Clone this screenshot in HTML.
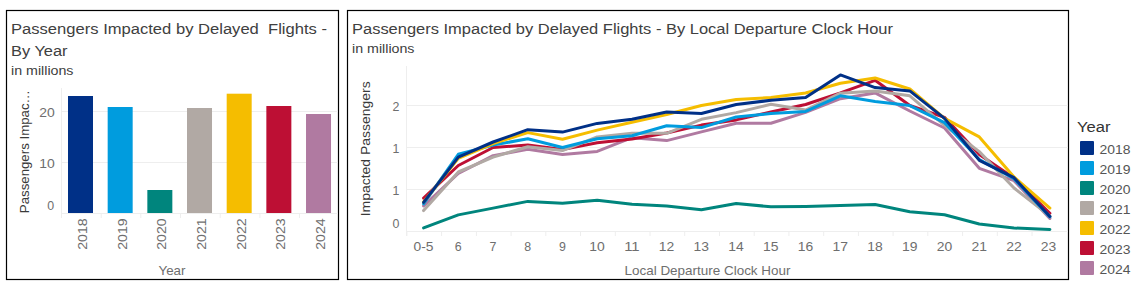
<!DOCTYPE html><html><head><meta charset="utf-8"><style>html,body{margin:0;padding:0;background:#fff;}svg{display:block;}text{font-family:"Liberation Sans",sans-serif;}</style></head><body>
<svg width="1138" height="287" viewBox="0 0 1138 287">
<rect x="0" y="0" width="1138" height="287" fill="#fff"/>
<rect x="6.5" y="10.5" width="332" height="269" fill="none" stroke="#000" stroke-width="1.2"/>
<text x="11" y="34.2" font-size="14.9" fill="#404040" textLength="316" lengthAdjust="spacingAndGlyphs">Passengers Impacted by Delayed&#160; Flights -</text>
<text x="11" y="55.8" font-size="14.9" fill="#404040" textLength="56.5" lengthAdjust="spacingAndGlyphs">By Year</text>
<text x="11" y="74.6" font-size="13.4" fill="#404040" textLength="62.5" lengthAdjust="spacingAndGlyphs">in millions</text>
<line x1="61.5" y1="88" x2="61.5" y2="218" stroke="#eeeeee" stroke-width="1"/>
<line x1="61" y1="111.5" x2="338" y2="111.5" stroke="#eeeeee" stroke-width="1"/>
<line x1="61" y1="162.5" x2="338" y2="162.5" stroke="#eeeeee" stroke-width="1"/>
<line x1="61" y1="213.5" x2="338" y2="213.5" stroke="#eeeeee" stroke-width="1"/>
<line x1="61.5" y1="213" x2="61.5" y2="218" stroke="#eeeeee" stroke-width="1"/>
<line x1="101.2" y1="213" x2="101.2" y2="218" stroke="#eeeeee" stroke-width="1"/>
<line x1="140.8" y1="213" x2="140.8" y2="218" stroke="#eeeeee" stroke-width="1"/>
<line x1="180.5" y1="213" x2="180.5" y2="218" stroke="#eeeeee" stroke-width="1"/>
<line x1="220.2" y1="213" x2="220.2" y2="218" stroke="#eeeeee" stroke-width="1"/>
<line x1="259.9" y1="213" x2="259.9" y2="218" stroke="#eeeeee" stroke-width="1"/>
<line x1="299.5" y1="213" x2="299.5" y2="218" stroke="#eeeeee" stroke-width="1"/>
<rect x="68.00" y="96" width="25" height="117.00" fill="#003087"/>
<text transform="translate(86.9,218.3) rotate(-90)" x="0" y="0" font-size="12.4" fill="#6e6e6e" text-anchor="end" textLength="31.5" lengthAdjust="spacingAndGlyphs">2018</text>
<rect x="107.67" y="107" width="25" height="106.00" fill="#009CDE"/>
<text transform="translate(126.6,218.3) rotate(-90)" x="0" y="0" font-size="12.4" fill="#6e6e6e" text-anchor="end" textLength="31.5" lengthAdjust="spacingAndGlyphs">2019</text>
<rect x="147.34" y="190" width="25" height="23.00" fill="#00857D"/>
<text transform="translate(166.2,218.3) rotate(-90)" x="0" y="0" font-size="12.4" fill="#6e6e6e" text-anchor="end" textLength="31.5" lengthAdjust="spacingAndGlyphs">2020</text>
<rect x="187.01" y="108" width="25" height="105.00" fill="#B1A9A4"/>
<text transform="translate(205.9,218.3) rotate(-90)" x="0" y="0" font-size="12.4" fill="#6e6e6e" text-anchor="end" textLength="31.5" lengthAdjust="spacingAndGlyphs">2021</text>
<rect x="226.68" y="93.7" width="25" height="119.30" fill="#F5BD00"/>
<text transform="translate(245.6,218.3) rotate(-90)" x="0" y="0" font-size="12.4" fill="#6e6e6e" text-anchor="end" textLength="31.5" lengthAdjust="spacingAndGlyphs">2022</text>
<rect x="266.35" y="106" width="25" height="107.00" fill="#BD0F34"/>
<text transform="translate(285.2,218.3) rotate(-90)" x="0" y="0" font-size="12.4" fill="#6e6e6e" text-anchor="end" textLength="31.5" lengthAdjust="spacingAndGlyphs">2023</text>
<rect x="306.02" y="114" width="25" height="99.00" fill="#B07AA1"/>
<text transform="translate(324.9,218.3) rotate(-90)" x="0" y="0" font-size="12.4" fill="#6e6e6e" text-anchor="end" textLength="31.5" lengthAdjust="spacingAndGlyphs">2024</text>
<text x="54.8" y="117.2" font-size="12.4" fill="#6e6e6e" text-anchor="end" textLength="15.5" lengthAdjust="spacingAndGlyphs">20</text>
<text x="54.8" y="168" font-size="12.4" fill="#6e6e6e" text-anchor="end" textLength="15.5" lengthAdjust="spacingAndGlyphs">10</text>
<text x="54.2" y="209.9" font-size="12.4" fill="#6e6e6e" text-anchor="end">0</text>
<text transform="translate(29.2,213.2) rotate(-90)" x="0" y="0" font-size="13.2" fill="#3a3a3a" textLength="123" lengthAdjust="spacingAndGlyphs">Passengers Impac…</text>
<text x="172" y="274.6" font-size="12.6" fill="#6e6e6e" text-anchor="middle" textLength="27" lengthAdjust="spacingAndGlyphs">Year</text>
<rect x="347.5" y="10.5" width="721" height="269" fill="none" stroke="#000" stroke-width="1.2"/>
<text x="352" y="34.2" font-size="14.9" fill="#404040" textLength="541" lengthAdjust="spacingAndGlyphs">Passengers Impacted by Delayed Flights - By Local Departure Clock Hour</text>
<text x="352" y="53.4" font-size="13.4" fill="#404040" textLength="62.5" lengthAdjust="spacingAndGlyphs">in millions</text>
<line x1="406.5" y1="66" x2="406.5" y2="236" stroke="#eeeeee" stroke-width="1"/>
<line x1="406" y1="105.5" x2="1068" y2="105.5" stroke="#eeeeee" stroke-width="1"/>
<line x1="406" y1="147.5" x2="1068" y2="147.5" stroke="#eeeeee" stroke-width="1"/>
<line x1="406" y1="189.5" x2="1068" y2="189.5" stroke="#eeeeee" stroke-width="1"/>
<line x1="406" y1="231.5" x2="1068" y2="231.5" stroke="#eeeeee" stroke-width="1"/>
<line x1="406.9" y1="231" x2="406.9" y2="236" stroke="#eeeeee" stroke-width="1"/>
<line x1="441.6" y1="231" x2="441.6" y2="236" stroke="#eeeeee" stroke-width="1"/>
<line x1="476.4" y1="231" x2="476.4" y2="236" stroke="#eeeeee" stroke-width="1"/>
<line x1="511.1" y1="231" x2="511.1" y2="236" stroke="#eeeeee" stroke-width="1"/>
<line x1="545.8" y1="231" x2="545.8" y2="236" stroke="#eeeeee" stroke-width="1"/>
<line x1="580.5" y1="231" x2="580.5" y2="236" stroke="#eeeeee" stroke-width="1"/>
<line x1="615.3" y1="231" x2="615.3" y2="236" stroke="#eeeeee" stroke-width="1"/>
<line x1="650.0" y1="231" x2="650.0" y2="236" stroke="#eeeeee" stroke-width="1"/>
<line x1="684.7" y1="231" x2="684.7" y2="236" stroke="#eeeeee" stroke-width="1"/>
<line x1="719.5" y1="231" x2="719.5" y2="236" stroke="#eeeeee" stroke-width="1"/>
<line x1="754.2" y1="231" x2="754.2" y2="236" stroke="#eeeeee" stroke-width="1"/>
<line x1="788.9" y1="231" x2="788.9" y2="236" stroke="#eeeeee" stroke-width="1"/>
<line x1="823.7" y1="231" x2="823.7" y2="236" stroke="#eeeeee" stroke-width="1"/>
<line x1="858.4" y1="231" x2="858.4" y2="236" stroke="#eeeeee" stroke-width="1"/>
<line x1="893.1" y1="231" x2="893.1" y2="236" stroke="#eeeeee" stroke-width="1"/>
<line x1="927.8" y1="231" x2="927.8" y2="236" stroke="#eeeeee" stroke-width="1"/>
<line x1="962.6" y1="231" x2="962.6" y2="236" stroke="#eeeeee" stroke-width="1"/>
<line x1="997.3" y1="231" x2="997.3" y2="236" stroke="#eeeeee" stroke-width="1"/>
<line x1="1032.0" y1="231" x2="1032.0" y2="236" stroke="#eeeeee" stroke-width="1"/>
<text x="423.5" y="250.9" font-size="12.4" fill="#6e6e6e" text-anchor="middle" textLength="20" lengthAdjust="spacingAndGlyphs">0-5</text>
<text x="458.2" y="250.9" font-size="12.4" fill="#6e6e6e" text-anchor="middle">6</text>
<text x="493.0" y="250.9" font-size="12.4" fill="#6e6e6e" text-anchor="middle">7</text>
<text x="527.7" y="250.9" font-size="12.4" fill="#6e6e6e" text-anchor="middle">8</text>
<text x="562.4" y="250.9" font-size="12.4" fill="#6e6e6e" text-anchor="middle">9</text>
<text x="597.1" y="250.9" font-size="12.4" fill="#6e6e6e" text-anchor="middle" textLength="15.5" lengthAdjust="spacingAndGlyphs">10</text>
<text x="631.9" y="250.9" font-size="12.4" fill="#6e6e6e" text-anchor="middle" textLength="15.5" lengthAdjust="spacingAndGlyphs">11</text>
<text x="666.6" y="250.9" font-size="12.4" fill="#6e6e6e" text-anchor="middle" textLength="15.5" lengthAdjust="spacingAndGlyphs">12</text>
<text x="701.3" y="250.9" font-size="12.4" fill="#6e6e6e" text-anchor="middle" textLength="15.5" lengthAdjust="spacingAndGlyphs">13</text>
<text x="736.1" y="250.9" font-size="12.4" fill="#6e6e6e" text-anchor="middle" textLength="15.5" lengthAdjust="spacingAndGlyphs">14</text>
<text x="770.8" y="250.9" font-size="12.4" fill="#6e6e6e" text-anchor="middle" textLength="15.5" lengthAdjust="spacingAndGlyphs">15</text>
<text x="805.5" y="250.9" font-size="12.4" fill="#6e6e6e" text-anchor="middle" textLength="15.5" lengthAdjust="spacingAndGlyphs">16</text>
<text x="840.3" y="250.9" font-size="12.4" fill="#6e6e6e" text-anchor="middle" textLength="15.5" lengthAdjust="spacingAndGlyphs">17</text>
<text x="875.0" y="250.9" font-size="12.4" fill="#6e6e6e" text-anchor="middle" textLength="15.5" lengthAdjust="spacingAndGlyphs">18</text>
<text x="909.7" y="250.9" font-size="12.4" fill="#6e6e6e" text-anchor="middle" textLength="15.5" lengthAdjust="spacingAndGlyphs">19</text>
<text x="944.4" y="250.9" font-size="12.4" fill="#6e6e6e" text-anchor="middle" textLength="15.5" lengthAdjust="spacingAndGlyphs">20</text>
<text x="979.2" y="250.9" font-size="12.4" fill="#6e6e6e" text-anchor="middle" textLength="15.5" lengthAdjust="spacingAndGlyphs">21</text>
<text x="1013.9" y="250.9" font-size="12.4" fill="#6e6e6e" text-anchor="middle" textLength="15.5" lengthAdjust="spacingAndGlyphs">22</text>
<text x="1048.6" y="250.9" font-size="12.4" fill="#6e6e6e" text-anchor="middle" textLength="15.5" lengthAdjust="spacingAndGlyphs">23</text>
<text x="399.5" y="111.3" font-size="12.4" fill="#6e6e6e" text-anchor="end">2</text>
<text x="399.5" y="153" font-size="12.4" fill="#6e6e6e" text-anchor="end">1</text>
<text x="399.5" y="195" font-size="12.4" fill="#6e6e6e" text-anchor="end">1</text>
<text x="399.5" y="227.5" font-size="12.4" fill="#6e6e6e" text-anchor="end">0</text>
<text transform="translate(370.1,216.3) rotate(-90)" x="0" y="0" font-size="13.2" fill="#3a3a3a" textLength="135" lengthAdjust="spacingAndGlyphs">Impacted Passengers</text>
<text x="707.5" y="274.7" font-size="12.6" fill="#6e6e6e" text-anchor="middle" textLength="166" lengthAdjust="spacingAndGlyphs">Local Departure Clock Hour</text>
<polyline points="423.6,227.9 458.3,214.9 493.1,208.1 527.8,201.4 562.5,203.3 597.2,200.2 632.0,204.3 666.7,205.9 701.4,209.7 736.2,203.4 770.9,206.8 805.6,206.4 840.4,205.5 875.1,204.5 909.8,211.8 944.5,214.7 979.3,224.0 1014.0,228.0 1049.9,229.5" fill="none" stroke="#00857D" stroke-width="3" stroke-linejoin="round" stroke-linecap="round"/>
<polyline points="423.6,205.9 458.3,173.5 493.1,155.7 527.8,149.2 562.5,154.4 597.2,151.4 632.0,137.7 666.7,140.6 701.4,131.9 736.2,123.2 770.9,123.2 805.6,112.4 840.4,98.7 875.1,92.9 909.8,111.0 944.5,128.0 979.3,168.3 1014.0,180.6 1049.9,218.5" fill="none" stroke="#B07AA1" stroke-width="3" stroke-linejoin="round" stroke-linecap="round"/>
<polyline points="423.6,198.1 458.3,165.5 493.1,147.5 527.8,145.0 562.5,149.6 597.2,142.7 632.0,139.0 666.7,133.0 701.4,125.1 736.2,119.9 770.9,112.0 805.6,104.5 840.4,92.9 875.1,80.3 909.8,105.5 944.5,117.4 979.3,154.5 1014.0,178.0 1049.9,213.3" fill="none" stroke="#BD0F34" stroke-width="3" stroke-linejoin="round" stroke-linecap="round"/>
<polyline points="423.6,210.6 458.3,172.0 493.1,157.1 527.8,146.8 562.5,150.6 597.2,136.9 632.0,133.3 666.7,133.3 701.4,119.3 736.2,112.6 770.9,104.3 805.6,110.0 840.4,93.2 875.1,90.9 909.8,95.8 944.5,125.3 979.3,151.6 1014.0,188.0 1049.9,216.0" fill="none" stroke="#B1A9A4" stroke-width="3" stroke-linejoin="round" stroke-linecap="round"/>
<polyline points="423.6,203.8 458.3,154.3 493.1,145.1 527.8,138.8 562.5,147.5 597.2,138.8 632.0,135.8 666.7,125.7 701.4,127.6 736.2,117.0 770.9,113.5 805.6,111.4 840.4,95.8 875.1,101.6 909.8,105.6 944.5,122.7 979.3,159.5 1014.0,178.7 1049.9,217.0" fill="none" stroke="#009CDE" stroke-width="3" stroke-linejoin="round" stroke-linecap="round"/>
<polyline points="423.6,202.0 458.3,158.3 493.1,143.5 527.8,132.6 562.5,139.3 597.2,130.1 632.0,122.2 666.7,114.5 701.4,105.5 736.2,99.5 770.9,97.5 805.6,93.0 840.4,83.2 875.1,78.0 909.8,89.0 944.5,118.4 979.3,136.9 1014.0,177.0 1049.9,208.1" fill="none" stroke="#F5BD00" stroke-width="3" stroke-linejoin="round" stroke-linecap="round"/>
<polyline points="423.6,202.3 458.3,157.1 493.1,142.0 527.8,129.7 562.5,132.1 597.2,123.4 632.0,119.3 666.7,112.0 701.4,113.5 736.2,104.5 770.9,100.3 805.6,97.5 840.4,74.9 875.1,87.6 909.8,90.9 944.5,118.4 979.3,160.3 1014.0,177.7 1049.9,216.4" fill="none" stroke="#003087" stroke-width="3" stroke-linejoin="round" stroke-linecap="round"/>
<text x="1077" y="132" font-size="14.9" fill="#333" textLength="33.5" lengthAdjust="spacingAndGlyphs">Year</text>
<rect x="1080" y="141" width="14" height="14" rx="1" fill="#003087"/>
<text x="1099.5" y="153.8" font-size="12.8" fill="#555" textLength="31" lengthAdjust="spacingAndGlyphs">2018</text>
<rect x="1080" y="161" width="14" height="14" rx="1" fill="#009CDE"/>
<text x="1099.5" y="173.8" font-size="12.8" fill="#555" textLength="31" lengthAdjust="spacingAndGlyphs">2019</text>
<rect x="1080" y="181" width="14" height="14" rx="1" fill="#00857D"/>
<text x="1099.5" y="193.8" font-size="12.8" fill="#555" textLength="31" lengthAdjust="spacingAndGlyphs">2020</text>
<rect x="1080" y="201" width="14" height="14" rx="1" fill="#B1A9A4"/>
<text x="1099.5" y="213.8" font-size="12.8" fill="#555" textLength="31" lengthAdjust="spacingAndGlyphs">2021</text>
<rect x="1080" y="221" width="14" height="14" rx="1" fill="#F5BD00"/>
<text x="1099.5" y="233.8" font-size="12.8" fill="#555" textLength="31" lengthAdjust="spacingAndGlyphs">2022</text>
<rect x="1080" y="241" width="14" height="14" rx="1" fill="#BD0F34"/>
<text x="1099.5" y="253.8" font-size="12.8" fill="#555" textLength="31" lengthAdjust="spacingAndGlyphs">2023</text>
<rect x="1080" y="261" width="14" height="14" rx="1" fill="#B07AA1"/>
<text x="1099.5" y="273.8" font-size="12.8" fill="#555" textLength="31" lengthAdjust="spacingAndGlyphs">2024</text>
</svg></body></html>
